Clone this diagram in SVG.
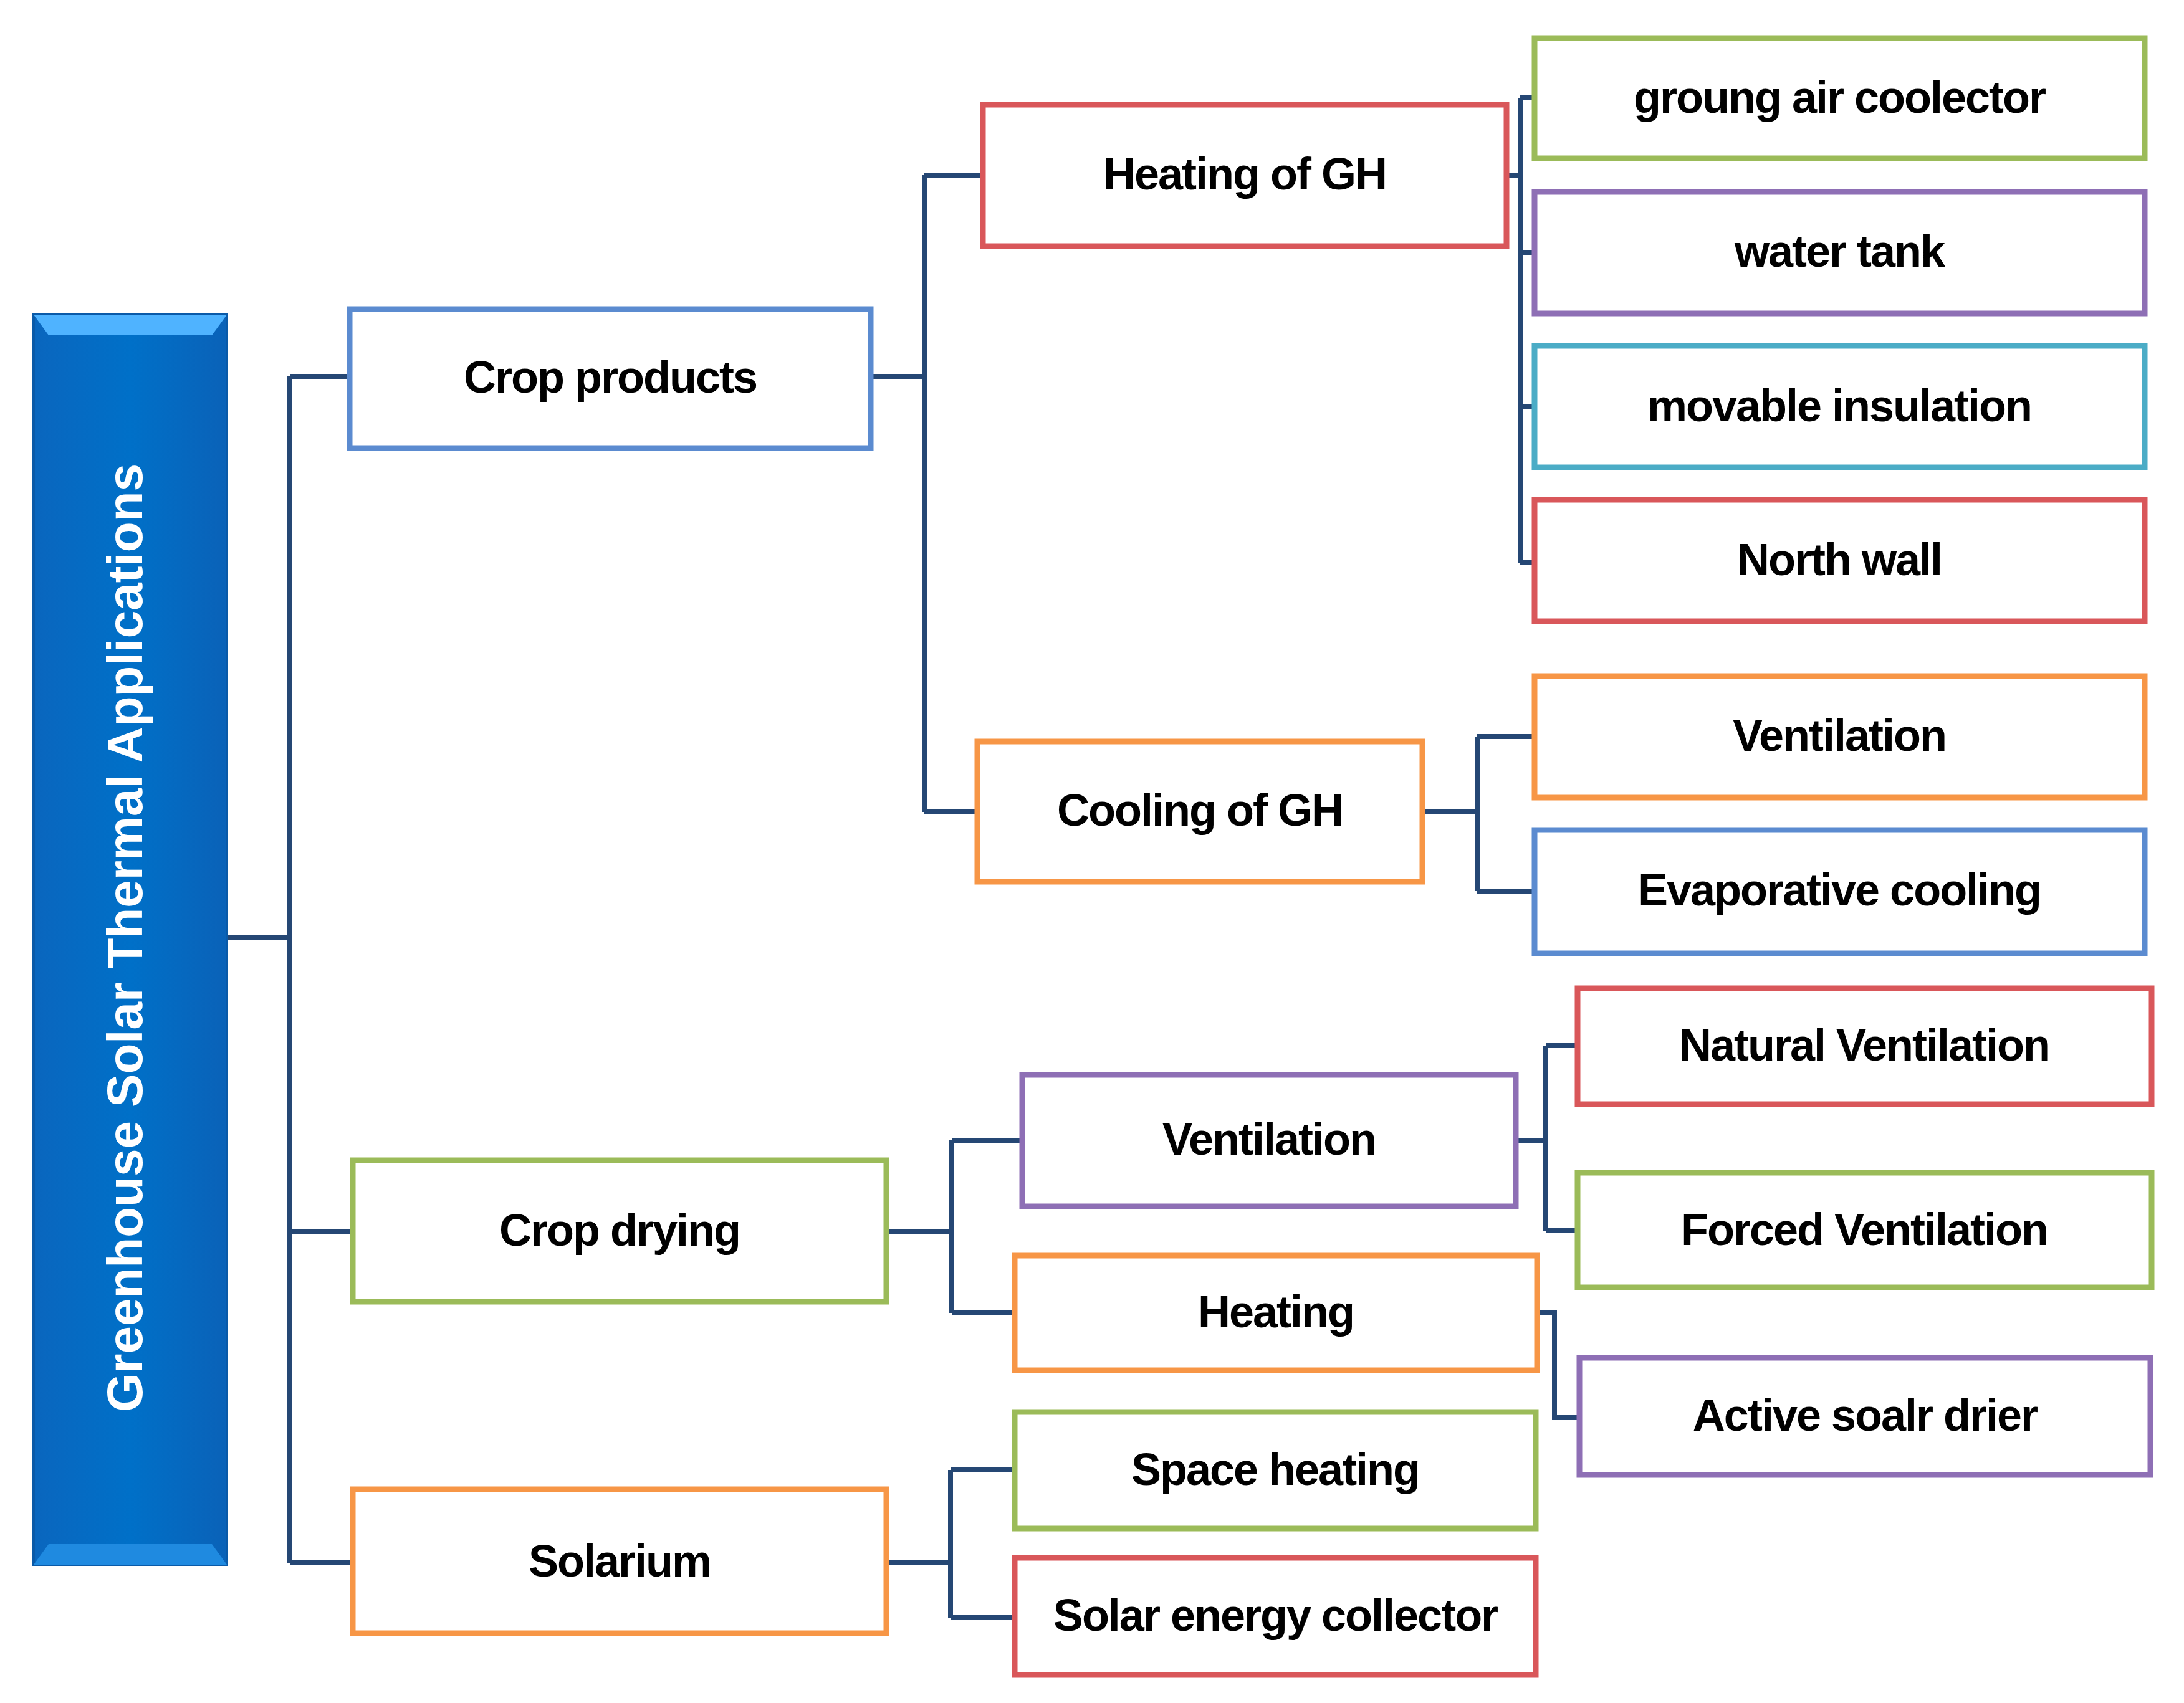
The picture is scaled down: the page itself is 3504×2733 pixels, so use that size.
<svg xmlns="http://www.w3.org/2000/svg" width="3504" height="2733" viewBox="0 0 3504 2733">
<style>
.b{fill:#fff;stroke-width:9}
.bl{stroke:#5b8bd0}.rd{stroke:#d9575a}.gr{stroke:#9bbb59}.pu{stroke:#8e6fb5}.cy{stroke:#4bacc6}.or{stroke:#f79646}
text{font-family:"Liberation Sans",Arial,sans-serif;font-weight:bold;font-size:72px;fill:#000;text-anchor:middle;letter-spacing:-2px}
#connectors path{fill:none;stroke:#254774;stroke-width:8}
</style>
<defs>
<linearGradient id="rg" x1="0" y1="0" x2="1" y2="0"><stop offset="0" stop-color="#0a66be"/><stop offset="0.5" stop-color="#0070c8"/><stop offset="1" stop-color="#0a62b8"/></linearGradient>
</defs>
<rect width="3504" height="2733" fill="#fff"/>
<g id="connectors">
<path d="M364 1505H465M465 604V2508M465 604H561M465 1976H566M465 2508H566"/>
<path d="M1397 604H1483M1483 281V1303M1483 281H1577M1483 1303H1568"/>
<path d="M2417 281H2439M2439 157V903M2439 157H2462M2439 405H2462M2439 653H2462M2439 903H2462"/>
<path d="M2282 1303H2370M2370 1182V1430M2370 1182H2462M2370 1430H2462"/>
<path d="M1422 1976H1527M1527 1830V2107M1527 1830H1640M1527 2107H1628"/>
<path d="M2432 1830H2480M2480 1678V1975M2480 1678H2531M2480 1975H2531"/>
<path d="M2466 2107H2494V2275H2534"/>
<path d="M1422 2508H1525M1525 2359V2596M1525 2359H1628M1525 2596H1628"/>
</g>
<g id="root">
<rect x="54" y="505" width="310" height="2006" fill="url(#rg)" stroke="#0a5aa8" stroke-width="4"/>
<polygon points="54,505 364,505 340,538 78,538" fill="#4fb3ff"/>
<polygon points="54,2511 364,2511 340,2478 78,2478" fill="#1f8ae0"/>
<text transform="translate(228,1505) rotate(-90)" style="fill:#fff;font-size:80px;letter-spacing:0">Greenhouse Solar Thermal Applications</text>
</g>
<g id="crop-products"><rect class="b bl" x="561" y="496" width="836" height="223"/><text x="979" y="630">Crop products</text></g>
<g id="crop-drying"><rect class="b gr" x="566" y="1862" width="856" height="227"/><text x="994" y="1999">Crop drying</text></g>
<g id="solarium"><rect class="b or" x="566" y="2390" width="856" height="231"/><text x="994" y="2530">Solarium</text></g>
<g id="heating-gh"><rect class="b rd" x="1577" y="168" width="840" height="227"/><text x="1997" y="304">Heating of GH</text></g>
<g id="cooling-gh"><rect class="b or" x="1568" y="1190" width="714" height="225"/><text x="1925" y="1325">Cooling of GH</text></g>
<g id="ground-air"><rect class="b gr" x="2462" y="61" width="979" height="193"/><text x="2951" y="181">groung air coolector</text></g>
<g id="water-tank"><rect class="b pu" x="2462" y="308" width="979" height="195"/><text x="2951" y="428">water tank</text></g>
<g id="movable"><rect class="b cy" x="2462" y="555" width="979" height="195"/><text x="2951" y="676">movable insulation</text></g>
<g id="north-wall"><rect class="b rd" x="2462" y="802" width="979" height="195"/><text x="2951" y="923">North wall</text></g>
<g id="ventilation-top"><rect class="b or" x="2462" y="1085" width="979" height="195"/><text x="2951" y="1205">Ventilation</text></g>
<g id="evaporative"><rect class="b bl" x="2462" y="1332" width="979" height="198"/><text x="2951" y="1453">Evaporative cooling</text></g>
<g id="ventilation-mid"><rect class="b pu" x="1640" y="1725" width="792" height="211"/><text x="2036" y="1853">Ventilation</text></g>
<g id="heating"><rect class="b or" x="1628" y="2015" width="838" height="184"/><text x="2047" y="2130">Heating</text></g>
<g id="space-heating"><rect class="b gr" x="1628" y="2266" width="836" height="187"/><text x="2046" y="2383">Space heating</text></g>
<g id="solar-collector"><rect class="b rd" x="1628" y="2500" width="836" height="188"/><text x="2046" y="2617">Solar energy collector</text></g>
<g id="natural-vent"><rect class="b rd" x="2531" y="1586" width="921" height="186"/><text x="2991" y="1702">Natural Ventilation</text></g>
<g id="forced-vent"><rect class="b gr" x="2531" y="1882" width="921" height="184"/><text x="2991" y="1998">Forced Ventilation</text></g>
<g id="active-drier"><rect class="b pu" x="2534" y="2179" width="916" height="188"/><text x="2992" y="2296">Active soalr drier</text></g>
</svg>
